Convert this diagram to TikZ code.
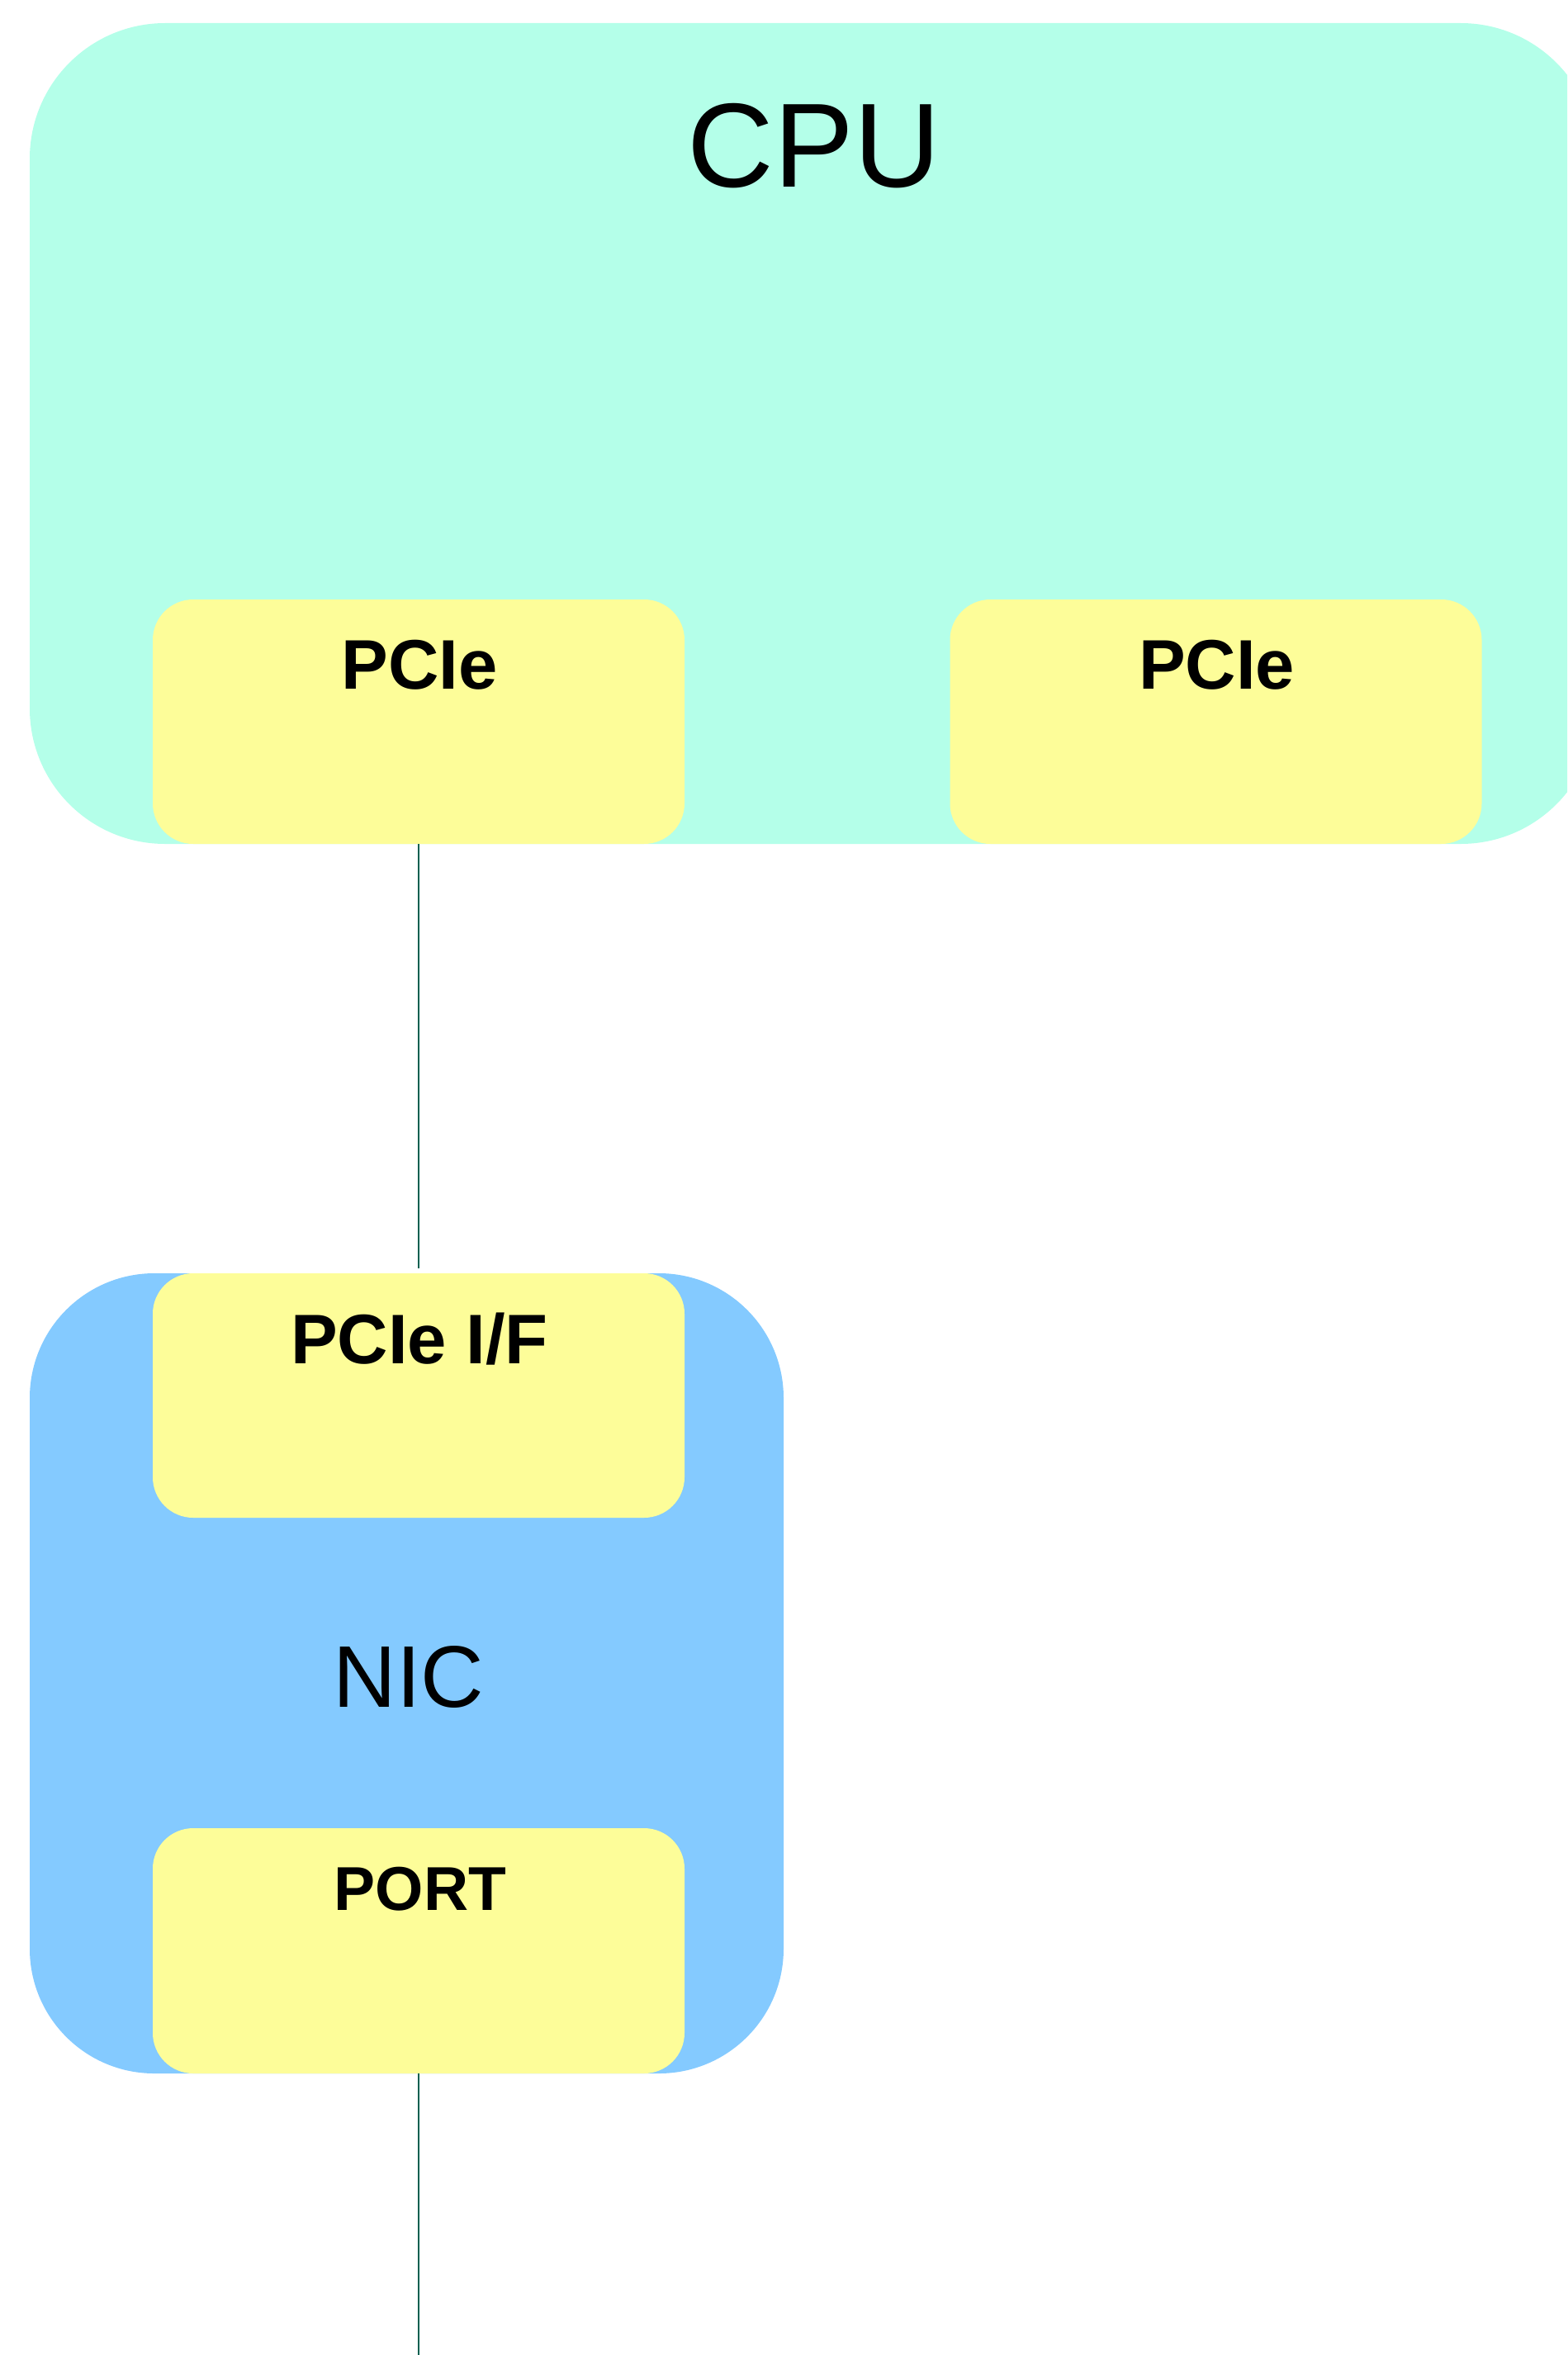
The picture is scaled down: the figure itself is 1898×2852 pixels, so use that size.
\documentclass[tikz,border=0pt]{standalone}
\usepackage{fontspec}
\setmainfont{Liberation Sans}
\definecolor{cpufill}{RGB}{180,255,233}
\definecolor{nicfill}{RGB}{132,202,255}
\definecolor{blockfill}{RGB}{253,253,153}
\definecolor{wire}{RGB}{0,96,80}
\begin{document}
\begin{tikzpicture}[x=1pt,y=-1pt,
  box/.style={draw=none, inner sep=0pt, outer sep=0pt},
  cpubox/.style={box, fill=cpufill, rounded corners=164pt, minimum width=1897pt, minimum height=994pt},
  nicbox/.style={box, fill=nicfill, rounded corners=151pt, minimum width=913pt, minimum height=969pt},
  block/.style={box, fill=blockfill, rounded corners=49pt, minimum width=644pt, minimum height=296pt},
  title/.style={anchor=base, inner sep=0pt, font=\fontsize{145}{168}\selectfont},
  nictitle/.style={anchor=base, inner sep=0pt, font=\fontsize{106}{124}\selectfont},
  blocklabel/.style={anchor=base, inner sep=0pt, font=\bfseries\fontsize{85}{100}\selectfont},
  portlabel/.style={anchor=base, inner sep=0pt, font=\bfseries\fontsize{75}{90}\selectfont},
  link/.style={draw=wire, line width=2.5pt}]
\useasboundingbox (0,0) rectangle (1898,2852);
\clip (0,0) rectangle (1898,2852);

% CPU with its two PCIe blocks
\node[cpubox] (cpu) at (984.5,525) {};
\node[title] (cputitle) at (986,227) {CPU};
\node[block] (pcieL) at (507,874) {};
\node[block] (pcieR) at (1472.5,874) {};
\node[blocklabel] (pcieLtext) at (508,834) {PCIe};
\node[blocklabel] (pcieRtext) at (1473.5,834) {PCIe};

% NIC with host interface and port
\node[nicbox] (nic) at (492.5,2026.5) {};
\node[block] (nicif) at (507,1690) {};
\node[block, minimum height=297pt] (port) at (507,2362.5) {};
\node[blocklabel] (niciftext) at (508,1651) {PCIe I/F};
\node[nictitle] (nictext) at (495,2067) {NIC};
\node[portlabel] (porttext) at (509,2313) {PORT};

% links
\coordinate (wireend) at (507,2852);
\draw[link] (pcieL.south) -- ([yshift=6pt]nicif.north);
\draw[link] (port.south) -- (wireend);
\end{tikzpicture}
\end{document}
